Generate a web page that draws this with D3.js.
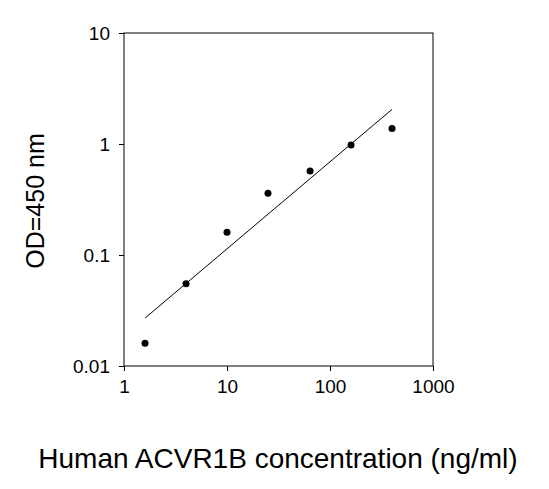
<!DOCTYPE html>
<html>
<head>
  <script src="https://d3js.org/d3.v7.min.js"></script>
  <style>body{margin:0;background:#fff}</style>
</head>
<body>
<script>
// data
var conc = [1.6, 4, 10, 25, 64, 160, 400],
    od = [0.016, 0.055, 0.16, 0.36, 0.57, 0.98, 1.38],
    fitX = [1.6, 400],
    fitY = [0.027, 2.05],
    xTicks = [1, 10, 100, 1000],
    yTicks = [0.01, 0.1, 1, 10];

var plotLeft = 124, plotRight = 433, plotTop = 33, plotBottom = 366;

var svg = d3.select("body").append("svg")
  .attr("width", 549).attr("height", 489)
  .style("font-family", "Liberation Sans, Arial, sans-serif");

var x = d3.scaleLog().domain([1, 1000]).range([plotLeft, plotRight]);
var y = d3.scaleLog().domain([0.01, 10]).range([plotBottom, plotTop]);

svg.append("rect").attr("x", plotLeft).attr("y", plotTop)
  .attr("width", plotRight - plotLeft).attr("height", plotBottom - plotTop)
  .attr("fill", "none").attr("stroke", "#000");

var xAxis = svg.append("g").attr("transform", "translate(0," + plotBottom + ")")
  .call(d3.axisBottom(x).tickValues(xTicks).tickFormat(d3.format("d")).tickSize(5).tickPadding(9));
var yAxis = svg.append("g").attr("transform", "translate(" + plotLeft + ",0)")
  .call(d3.axisLeft(y).tickValues(yTicks).tickFormat(function (d) { return String(d); }).tickSize(5).tickPadding(9));
[xAxis, yAxis].forEach(function (a) {
  a.select(".domain").remove();
  a.selectAll("text").style("font-size", "19px").attr("fill", "#000");
});

svg.append("path")
  .attr("d", d3.line().x(function (d, i) { return x(fitX[i]); }).y(function (d) { return y(d); })(fitY))
  .attr("stroke", "#000").attr("fill", "none");

svg.selectAll("circle.pt").data(conc).enter().append("circle")
  .attr("cx", function (d) { return x(d); })
  .attr("cy", function (d, i) { return y(od[i]); })
  .attr("r", 3.5).attr("fill", "#000");

svg.append("text").attr("x", 278).attr("y", 468).attr("text-anchor", "middle")
  .style("font-size", "28px").text("Human ACVR1B concentration (ng/ml)");
svg.append("text").attr("transform", "translate(44,201) rotate(-90)")
  .attr("text-anchor", "middle").style("font-size", "25px").text("OD=450 nm");
</script>
</body>
</html>
